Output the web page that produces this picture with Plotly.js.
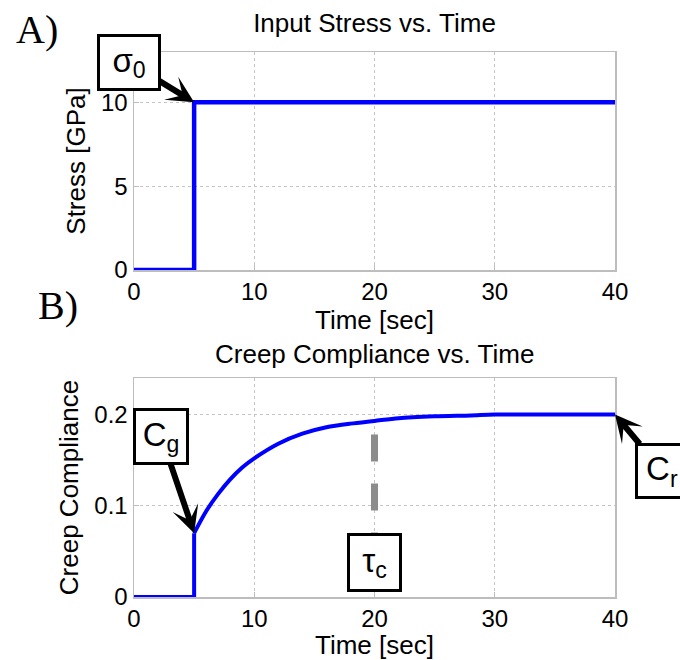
<!DOCTYPE html>
<html>
<head>
<meta charset="utf-8">
<script src="https://cdn.plot.ly/plotly-3.0.1.min.js"></script>
<style>html,body{margin:0;padding:0;background:#fff;}#chart{width:680px;height:660px;}</style>
</head>
<body>
<div id="chart"></div>
<script>
// ---- data ----
const stressTime = [0, 5, 5, 40];
const stressValues = [0, 0, 10, 10];

// step part of the creep response (before and at loading)
const creepStepTime = [0, 5, 5];
const creepStepValues = [0, 0, 0.07];

// creep rise after loading
const creepTime = [5, 6, 7, 8, 9, 10, 12, 14, 16, 18, 20, 22, 25, 28, 30, 35, 40];
const creepValues = [0.07, 0.094, 0.113, 0.129, 0.142, 0.152, 0.168, 0.179, 0.186, 0.190, 0.193, 0.196, 0.198, 0.199, 0.2, 0.2, 0.2];

const tauTime = [20, 20];
const tauValues = [0.178, 0.03];

const xTicks = [0, 10, 20, 30, 40];
const stressTicks = [0, 5, 10];
const creepTicks = [0, 0.1, 0.2];

const titleTop = "Input Stress vs. Time";
const titleBottom = "Creep Compliance vs. Time";
const xTitle = "Time [sec]";
const yTitleTop = "Stress [GPa]";
const yTitleBottom = "Creep Compliance";

const labelSigma0 = "σ<sub>0</sub>";
const labelCg = "C<sub>g</sub>";
const labelCr = "C<sub>r</sub>";
const labelTau = "τ<sub>c</sub>";
const panelA = "A)";
const panelB = "B)";

// ---- styling ----
const SANS = "Liberation Sans, Arial, Helvetica, sans-serif";
const SERIF = "Liberation Serif, Times New Roman, serif";

function axisBase(extra) {
  return Object.assign({
    showline: true, mirror: true, linecolor: "#bdbdbd", linewidth: 1.5,
    showgrid: true, gridcolor: "#c4c4c4", griddash: "dot", gridwidth: 1,
    ticks: "inside", ticklen: 5, tickcolor: "#bdbdbd",
    zeroline: false,
    tickfont: {family: SANS, size: 24, color: "#000"},
    fixedrange: true
  }, extra);
}

const traces = [
  {x: stressTime, y: stressValues, xaxis: "x", yaxis: "y", mode: "lines",
   line: {color: "#0000ff", width: 4.5}, hoverinfo: "skip"},
  {x: tauTime, y: tauValues, xaxis: "x2", yaxis: "y2", mode: "lines",
   line: {color: "#8c8c8c", width: 7, dash: "27px,22px"}, hoverinfo: "skip"},
  {x: creepStepTime, y: creepStepValues, xaxis: "x2", yaxis: "y2", mode: "lines",
   line: {color: "#0000ff", width: 4}, hoverinfo: "skip"},
  {x: creepTime, y: creepValues, xaxis: "x2", yaxis: "y2", mode: "lines",
   line: {color: "#0000ff", width: 4, shape: "spline", smoothing: 0.8}, hoverinfo: "skip"}
];

const boxStyle = {
  font: {family: SANS, size: 33, color: "#000"},
  bordercolor: "#000", borderwidth: 3, borderpad: 0, bgcolor: "#fff",
  showarrow: true, arrowhead: 3, arrowsize: 0.75, arrowwidth: 6, arrowcolor: "#000"
};

const layout = {
  width: 680, height: 660,
  margin: {l: 134, r: 65, t: 52, b: 63},
  paper_bgcolor: "#fff", plot_bgcolor: "#fff",
  showlegend: false,
  title: {text: titleTop, font: {family: SANS, size: 26, color: "#000"},
          x: 0.5, xanchor: "center", xref: "paper",
          y: 1 - 23 / 660, yanchor: "middle", yref: "container"},
  xaxis: axisBase({domain: [0, 1], anchor: "y", range: [0, 40], tickvals: xTicks,
    title: {text: xTitle, font: {family: SANS, size: 26, color: "#000"}, standoff: 3}}),
  yaxis: axisBase({domain: [0.6, 1], anchor: "x", range: [0, 13], tickvals: stressTicks,
    title: {text: yTitleTop, font: {family: SANS, size: 26, color: "#000"}, standoff: 8}}),
  xaxis2: axisBase({domain: [0, 1], anchor: "y2", range: [0, 40], tickvals: xTicks,
    title: {text: xTitle, font: {family: SANS, size: 26, color: "#000"}, standoff: 1}}),
  yaxis2: axisBase({domain: [0, 0.4018], anchor: "x2", range: [0, 0.24], tickvals: creepTicks,
    title: {text: yTitleBottom, font: {family: SANS, size: 26, color: "#000"}, standoff: 8}}),
  annotations: [
    Object.assign({}, boxStyle, {text: labelSigma0, xref: "x", yref: "y", x: 5, y: 10,
      ax: -65, ay: -40, width: 58, height: 51}),
    Object.assign({}, boxStyle, {text: labelCg, xref: "x2", yref: "y2", x: 5, y: 0.07,
      ax: -33, ay: -97, width: 50, height: 51}),
    Object.assign({}, boxStyle, {text: labelCr, xref: "x2", yref: "y2", x: 40, y: 0.2,
      ax: 47, ay: 56, width: 48, height: 50}),
    Object.assign({}, boxStyle, {text: labelTau, xref: "x2", yref: "y2", x: 20, y: 0.038,
      showarrow: false, width: 49, height: 53, xanchor: "center", yanchor: "middle"}),
    {text: titleBottom, xref: "paper", yref: "paper", x: 0.5, y: 1 - (354 - 52) / 545,
      xanchor: "center", yanchor: "middle", showarrow: false,
      font: {family: SANS, size: 26, color: "#000"}},
    {text: panelA, xref: "paper", yref: "paper", x: (37 - 134) / 481, y: 1 + (52 - 30) / 545,
      xanchor: "center", yanchor: "middle", showarrow: false,
      font: {family: SERIF, size: 40, color: "#000"}},
    {text: panelB, xref: "paper", yref: "paper", x: (58 - 134) / 481, y: 1 - (305 - 52) / 545,
      xanchor: "center", yanchor: "middle", showarrow: false,
      font: {family: SERIF, size: 40, color: "#000"}}
  ]
};

Plotly.newPlot("chart", traces, layout, {displayModeBar: false, staticPlot: true});
</script>
</body>
</html>
